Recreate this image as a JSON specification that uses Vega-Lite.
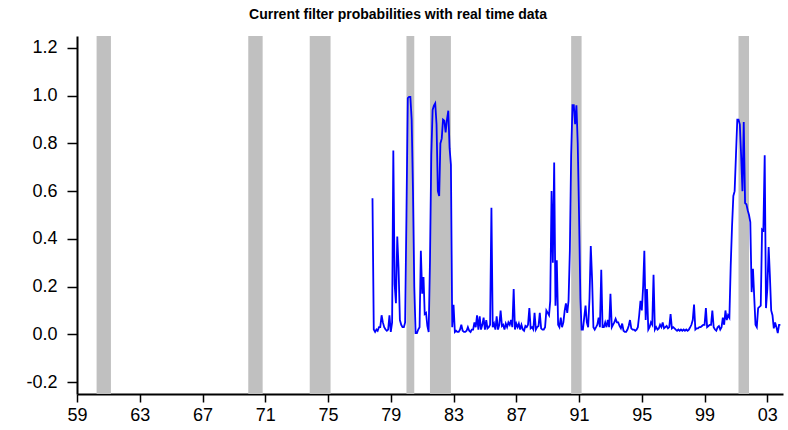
{
  "$schema": "https://vega.github.io/schema/vega-lite/v6.json",
  "width": 706,
  "height": 358,
  "autosize": {"type": "none"},
  "padding": {"left": 77, "top": 36, "right": 5, "bottom": 36},
  "background": "white",
  "title": {
    "text": "Current filter probabilities with real time data",
    "font": "Liberation Sans",
    "fontSize": 14,
    "fontWeight": "bold",
    "color": "black",
    "anchor": "middle",
    "dx": -32,
    "offset": 14
  },
  "config": {"view": {"stroke": null}},
  "datasets": {
    "recessions": [
      {"start": "1960-04", "end": "1961-03"},
      {"start": "1969-12", "end": "1970-11"},
      {"start": "1973-11", "end": "1975-03"},
      {"start": "1980-01", "end": "1980-07"},
      {"start": "1981-07", "end": "1982-11"},
      {"start": "1990-07", "end": "1991-03"},
      {"start": "2001-03", "end": "2001-11"}
    ],
    "probs": [
      {"date": "1977-11", "p": 0.57}, {"date": "1977-12", "p": 0.02},
      {"date": "1978-01", "p": 0.01}, {"date": "1978-02", "p": 0.02}, {"date": "1978-03", "p": 0.015}, {"date": "1978-04", "p": 0.03},
      {"date": "1978-05", "p": 0.03}, {"date": "1978-06", "p": 0.08}, {"date": "1978-07", "p": 0.05}, {"date": "1978-08", "p": 0.03},
      {"date": "1978-09", "p": 0.02}, {"date": "1978-10", "p": 0.015}, {"date": "1978-11", "p": 0.02}, {"date": "1978-12", "p": 0.08},
      {"date": "1979-01", "p": 0.01}, {"date": "1979-02", "p": 0.05}, {"date": "1979-03", "p": 0.77}, {"date": "1979-04", "p": 0.21},
      {"date": "1979-05", "p": 0.13}, {"date": "1979-06", "p": 0.41}, {"date": "1979-07", "p": 0.28}, {"date": "1979-08", "p": 0.06},
      {"date": "1979-09", "p": 0.04}, {"date": "1979-10", "p": 0.03}, {"date": "1979-11", "p": 0.03}, {"date": "1979-12", "p": 0.05},
      {"date": "1980-01", "p": 0.5}, {"date": "1980-02", "p": 0.99}, {"date": "1980-03", "p": 0.995}, {"date": "1980-04", "p": 0.995},
      {"date": "1980-05", "p": 0.9}, {"date": "1980-06", "p": 0.6}, {"date": "1980-07", "p": 0.2}, {"date": "1980-08", "p": 0.005},
      {"date": "1980-09", "p": 0.005}, {"date": "1980-10", "p": 0.02}, {"date": "1980-11", "p": 0.03}, {"date": "1980-12", "p": 0.35},
      {"date": "1981-01", "p": 0.17}, {"date": "1981-02", "p": 0.24}, {"date": "1981-03", "p": 0.085}, {"date": "1981-04", "p": 0.09},
      {"date": "1981-05", "p": 0.035}, {"date": "1981-06", "p": 0.01}, {"date": "1981-07", "p": 0.3}, {"date": "1981-08", "p": 0.75},
      {"date": "1981-09", "p": 0.94}, {"date": "1981-10", "p": 0.958}, {"date": "1981-11", "p": 0.968}, {"date": "1981-12", "p": 0.88},
      {"date": "1982-01", "p": 0.6}, {"date": "1982-02", "p": 0.58}, {"date": "1982-03", "p": 0.8}, {"date": "1982-04", "p": 0.82},
      {"date": "1982-05", "p": 0.9}, {"date": "1982-06", "p": 0.895}, {"date": "1982-07", "p": 0.846}, {"date": "1982-08", "p": 0.9},
      {"date": "1982-09", "p": 0.937}, {"date": "1982-10", "p": 0.78}, {"date": "1982-11", "p": 0.71}, {"date": "1982-12", "p": 0.03},
      {"date": "1983-01", "p": 0.124}, {"date": "1983-02", "p": 0.01}, {"date": "1983-03", "p": 0.015}, {"date": "1983-04", "p": 0.01},
      {"date": "1983-05", "p": 0.01}, {"date": "1983-06", "p": 0.02}, {"date": "1983-07", "p": 0.04}, {"date": "1983-08", "p": 0.015},
      {"date": "1983-09", "p": 0.01}, {"date": "1983-10", "p": 0.01}, {"date": "1983-11", "p": 0.015}, {"date": "1983-12", "p": 0.03},
      {"date": "1984-01", "p": 0.015}, {"date": "1984-02", "p": 0.01}, {"date": "1984-03", "p": 0.02}, {"date": "1984-04", "p": 0.02},
      {"date": "1984-05", "p": 0.05}, {"date": "1984-06", "p": 0.03}, {"date": "1984-07", "p": 0.08}, {"date": "1984-08", "p": 0.02},
      {"date": "1984-09", "p": 0.075}, {"date": "1984-10", "p": 0.02}, {"date": "1984-11", "p": 0.04}, {"date": "1984-12", "p": 0.07},
      {"date": "1985-01", "p": 0.02}, {"date": "1985-02", "p": 0.06}, {"date": "1985-03", "p": 0.025}, {"date": "1985-04", "p": 0.03},
      {"date": "1985-05", "p": 0.04}, {"date": "1985-06", "p": 0.53}, {"date": "1985-07", "p": 0.03}, {"date": "1985-08", "p": 0.045},
      {"date": "1985-09", "p": 0.02}, {"date": "1985-10", "p": 0.075}, {"date": "1985-11", "p": 0.02}, {"date": "1985-12", "p": 0.04},
      {"date": "1986-01", "p": 0.1}, {"date": "1986-02", "p": 0.035}, {"date": "1986-03", "p": 0.04}, {"date": "1986-04", "p": 0.02},
      {"date": "1986-05", "p": 0.045}, {"date": "1986-06", "p": 0.03}, {"date": "1986-07", "p": 0.05}, {"date": "1986-08", "p": 0.04},
      {"date": "1986-09", "p": 0.06}, {"date": "1986-10", "p": 0.03}, {"date": "1986-11", "p": 0.19}, {"date": "1986-12", "p": 0.02},
      {"date": "1987-01", "p": 0.045}, {"date": "1987-02", "p": 0.03}, {"date": "1987-03", "p": 0.045}, {"date": "1987-04", "p": 0.02},
      {"date": "1987-05", "p": 0.04}, {"date": "1987-06", "p": 0.02}, {"date": "1987-07", "p": 0.015}, {"date": "1987-08", "p": 0.035},
      {"date": "1987-09", "p": 0.03}, {"date": "1987-10", "p": 0.04}, {"date": "1987-11", "p": 0.11}, {"date": "1987-12", "p": 0.025},
      {"date": "1988-01", "p": 0.03}, {"date": "1988-02", "p": 0.02}, {"date": "1988-03", "p": 0.09}, {"date": "1988-04", "p": 0.02},
      {"date": "1988-05", "p": 0.03}, {"date": "1988-06", "p": 0.035}, {"date": "1988-07", "p": 0.09}, {"date": "1988-08", "p": 0.025},
      {"date": "1988-09", "p": 0.02}, {"date": "1988-10", "p": 0.02}, {"date": "1988-11", "p": 0.03}, {"date": "1988-12", "p": 0.1},
      {"date": "1989-01", "p": 0.09}, {"date": "1989-02", "p": 0.08}, {"date": "1989-03", "p": 0.14}, {"date": "1989-04", "p": 0.6},
      {"date": "1989-05", "p": 0.3}, {"date": "1989-06", "p": 0.72}, {"date": "1989-07", "p": 0.12}, {"date": "1989-08", "p": 0.31},
      {"date": "1989-09", "p": 0.04}, {"date": "1989-10", "p": 0.03}, {"date": "1989-11", "p": 0.07}, {"date": "1989-12", "p": 0.03},
      {"date": "1990-01", "p": 0.05}, {"date": "1990-02", "p": 0.1}, {"date": "1990-03", "p": 0.13}, {"date": "1990-04", "p": 0.09},
      {"date": "1990-05", "p": 0.14}, {"date": "1990-06", "p": 0.35}, {"date": "1990-07", "p": 0.75}, {"date": "1990-08", "p": 0.96},
      {"date": "1990-09", "p": 0.96}, {"date": "1990-10", "p": 0.88}, {"date": "1990-11", "p": 0.96}, {"date": "1990-12", "p": 0.8},
      {"date": "1991-01", "p": 0.5}, {"date": "1991-02", "p": 0.15}, {"date": "1991-03", "p": 0.02}, {"date": "1991-04", "p": 0.02},
      {"date": "1991-05", "p": 0.07}, {"date": "1991-06", "p": 0.12}, {"date": "1991-07", "p": 0.05}, {"date": "1991-08", "p": 0.03},
      {"date": "1991-09", "p": 0.15}, {"date": "1991-10", "p": 0.37}, {"date": "1991-11", "p": 0.23}, {"date": "1991-12", "p": 0.03},
      {"date": "1992-01", "p": 0.02}, {"date": "1992-02", "p": 0.03}, {"date": "1992-03", "p": 0.04}, {"date": "1992-04", "p": 0.07},
      {"date": "1992-05", "p": 0.03}, {"date": "1992-06", "p": 0.27}, {"date": "1992-07", "p": 0.03}, {"date": "1992-08", "p": 0.03},
      {"date": "1992-09", "p": 0.05}, {"date": "1992-10", "p": 0.03}, {"date": "1992-11", "p": 0.06}, {"date": "1992-12", "p": 0.03},
      {"date": "1993-01", "p": 0.17}, {"date": "1993-02", "p": 0.03}, {"date": "1993-03", "p": 0.04}, {"date": "1993-04", "p": 0.05},
      {"date": "1993-05", "p": 0.065}, {"date": "1993-06", "p": 0.05}, {"date": "1993-07", "p": 0.05}, {"date": "1993-08", "p": 0.035},
      {"date": "1993-09", "p": 0.025}, {"date": "1993-10", "p": 0.045}, {"date": "1993-11", "p": 0.015}, {"date": "1993-12", "p": 0.01},
      {"date": "1994-01", "p": 0.01}, {"date": "1994-02", "p": 0.02}, {"date": "1994-03", "p": 0.035}, {"date": "1994-04", "p": 0.06},
      {"date": "1994-05", "p": 0.025}, {"date": "1994-06", "p": 0.02}, {"date": "1994-07", "p": 0.02}, {"date": "1994-08", "p": 0.015},
      {"date": "1994-09", "p": 0.02}, {"date": "1994-10", "p": 0.03}, {"date": "1994-11", "p": 0.08}, {"date": "1994-12", "p": 0.14},
      {"date": "1995-01", "p": 0.1}, {"date": "1995-02", "p": 0.2}, {"date": "1995-03", "p": 0.35}, {"date": "1995-04", "p": 0.06},
      {"date": "1995-05", "p": 0.19}, {"date": "1995-06", "p": 0.02}, {"date": "1995-07", "p": 0.03}, {"date": "1995-08", "p": 0.05},
      {"date": "1995-09", "p": 0.04}, {"date": "1995-10", "p": 0.25}, {"date": "1995-11", "p": 0.02}, {"date": "1995-12", "p": 0.03},
      {"date": "1996-01", "p": 0.02}, {"date": "1996-02", "p": 0.025}, {"date": "1996-03", "p": 0.04}, {"date": "1996-04", "p": 0.03},
      {"date": "1996-05", "p": 0.05}, {"date": "1996-06", "p": 0.025}, {"date": "1996-07", "p": 0.03}, {"date": "1996-08", "p": 0.035},
      {"date": "1996-09", "p": 0.025}, {"date": "1996-10", "p": 0.03}, {"date": "1996-11", "p": 0.085}, {"date": "1996-12", "p": 0.025},
      {"date": "1997-01", "p": 0.03}, {"date": "1997-02", "p": 0.025}, {"date": "1997-03", "p": 0.02}, {"date": "1997-04", "p": 0.015},
      {"date": "1997-05", "p": 0.02}, {"date": "1997-06", "p": 0.015}, {"date": "1997-07", "p": 0.02}, {"date": "1997-08", "p": 0.015},
      {"date": "1997-09", "p": 0.02}, {"date": "1997-10", "p": 0.015}, {"date": "1997-11", "p": 0.02}, {"date": "1997-12", "p": 0.015},
      {"date": "1998-01", "p": 0.02}, {"date": "1998-02", "p": 0.03}, {"date": "1998-03", "p": 0.04}, {"date": "1998-04", "p": 0.06},
      {"date": "1998-05", "p": 0.125}, {"date": "1998-06", "p": 0.02}, {"date": "1998-07", "p": 0.025}, {"date": "1998-08", "p": 0.025},
      {"date": "1998-09", "p": 0.03}, {"date": "1998-10", "p": 0.03}, {"date": "1998-11", "p": 0.035}, {"date": "1998-12", "p": 0.04},
      {"date": "1999-01", "p": 0.04}, {"date": "1999-02", "p": 0.11}, {"date": "1999-03", "p": 0.03}, {"date": "1999-04", "p": 0.035},
      {"date": "1999-05", "p": 0.04}, {"date": "1999-06", "p": 0.04}, {"date": "1999-07", "p": 0.1}, {"date": "1999-08", "p": 0.03},
      {"date": "1999-09", "p": 0.02}, {"date": "1999-10", "p": 0.015}, {"date": "1999-11", "p": 0.03}, {"date": "1999-12", "p": 0.035},
      {"date": "2000-01", "p": 0.02}, {"date": "2000-02", "p": 0.03}, {"date": "2000-03", "p": 0.07}, {"date": "2000-04", "p": 0.04},
      {"date": "2000-05", "p": 0.1}, {"date": "2000-06", "p": 0.06}, {"date": "2000-07", "p": 0.08}, {"date": "2000-08", "p": 0.07},
      {"date": "2000-09", "p": 0.29}, {"date": "2000-10", "p": 0.45}, {"date": "2000-11", "p": 0.58}, {"date": "2000-12", "p": 0.6},
      {"date": "2001-01", "p": 0.75}, {"date": "2001-02", "p": 0.9}, {"date": "2001-03", "p": 0.9}, {"date": "2001-04", "p": 0.88},
      {"date": "2001-05", "p": 0.75}, {"date": "2001-06", "p": 0.6}, {"date": "2001-07", "p": 0.89}, {"date": "2001-08", "p": 0.55},
      {"date": "2001-09", "p": 0.545}, {"date": "2001-10", "p": 0.52}, {"date": "2001-11", "p": 0.5}, {"date": "2001-12", "p": 0.47},
      {"date": "2002-01", "p": 0.177}, {"date": "2002-02", "p": 0.275}, {"date": "2002-03", "p": 0.16}, {"date": "2002-04", "p": 0.04},
      {"date": "2002-05", "p": 0.03}, {"date": "2002-06", "p": 0.11}, {"date": "2002-07", "p": 0.115}, {"date": "2002-08", "p": 0.12},
      {"date": "2002-09", "p": 0.44}, {"date": "2002-10", "p": 0.436}, {"date": "2002-11", "p": 0.75}, {"date": "2002-12", "p": 0.11},
      {"date": "2003-01", "p": 0.19}, {"date": "2003-02", "p": 0.366}, {"date": "2003-03", "p": 0.25}, {"date": "2003-04", "p": 0.1},
      {"date": "2003-05", "p": 0.08}, {"date": "2003-06", "p": 0.025}, {"date": "2003-07", "p": 0.05}, {"date": "2003-08", "p": 0.03},
      {"date": "2003-09", "p": 0.005}, {"date": "2003-10", "p": 0.04}, {"date": "2003-11", "p": 0.04}
    ]
  },
  "layer": [
    {
      "data": {"name": "recessions"},
      "mark": {"type": "rect", "color": "#C0C0C0"},
      "encoding": {
        "x": {
          "field": "start",
          "type": "temporal",
          "scale": {"type": "utc", "domain": [{"year": 1959, "utc": true}, {"year": 2004, "utc": true}]},
          "axis": {
            "values": [
              {"year": 1959, "utc": true}, {"year": 1960, "utc": true}, {"year": 1961, "utc": true}, {"year": 1962, "utc": true},
              {"year": 1963, "utc": true}, {"year": 1964, "utc": true}, {"year": 1965, "utc": true}, {"year": 1966, "utc": true},
              {"year": 1967, "utc": true}, {"year": 1968, "utc": true}, {"year": 1969, "utc": true}, {"year": 1970, "utc": true},
              {"year": 1971, "utc": true}, {"year": 1972, "utc": true}, {"year": 1973, "utc": true}, {"year": 1974, "utc": true},
              {"year": 1975, "utc": true}, {"year": 1976, "utc": true}, {"year": 1977, "utc": true}, {"year": 1978, "utc": true},
              {"year": 1979, "utc": true}, {"year": 1980, "utc": true}, {"year": 1981, "utc": true}, {"year": 1982, "utc": true},
              {"year": 1983, "utc": true}, {"year": 1984, "utc": true}, {"year": 1985, "utc": true}, {"year": 1986, "utc": true},
              {"year": 1987, "utc": true}, {"year": 1988, "utc": true}, {"year": 1989, "utc": true}, {"year": 1990, "utc": true},
              {"year": 1991, "utc": true}, {"year": 1992, "utc": true}, {"year": 1993, "utc": true}, {"year": 1994, "utc": true},
              {"year": 1995, "utc": true}, {"year": 1996, "utc": true}, {"year": 1997, "utc": true}, {"year": 1998, "utc": true},
              {"year": 1999, "utc": true}, {"year": 2000, "utc": true}, {"year": 2001, "utc": true}, {"year": 2002, "utc": true},
              {"year": 2003, "utc": true}, {"year": 2004, "utc": true}
            ],
            "labelExpr": "utcyear(datum.value) % 4 == 3 ? utcFormat(datum.value, '%y') : ''",
            "title": null,
            "grid": false,
            "domainColor": "black",
            "domainWidth": 2,
            "tickColor": "black",
            "tickSize": 8,
            "tickWidth": 1.5,
            "labelFont": "Liberation Sans",
            "labelFontSize": 18,
            "labelColor": "black",
            "labelPadding": 4,
            "labelDx": 3,
            "labelOverlap": false,
            "labelFlush": false
          }
        },
        "x2": {"field": "end"}
      }
    },
    {
      "data": {"name": "probs"},
      "mark": {"type": "line", "color": "#0000FF", "strokeWidth": 1.8},
      "encoding": {
        "x": {"field": "date", "type": "temporal"},
        "y": {
          "field": "p",
          "type": "quantitative",
          "scale": {"domain": [-0.25, 1.25], "nice": false, "zero": false},
          "axis": {
            "values": [-0.2, 0, 0.2, 0.4, 0.6, 0.8, 1, 1.2],
            "labelExpr": "datum.value < 0 ? '-' + format(-datum.value, '.1f') : format(datum.value, '.1f')",
            "title": null,
            "grid": false,
            "domainColor": "black",
            "domainWidth": 2,
            "tickColor": "black",
            "tickSize": 10,
            "tickWidth": 1.5,
            "labelFont": "Liberation Sans",
            "labelFontSize": 18,
            "labelColor": "black",
            "labelPadding": 10
          }
        }
      }
    }
  ]
}
